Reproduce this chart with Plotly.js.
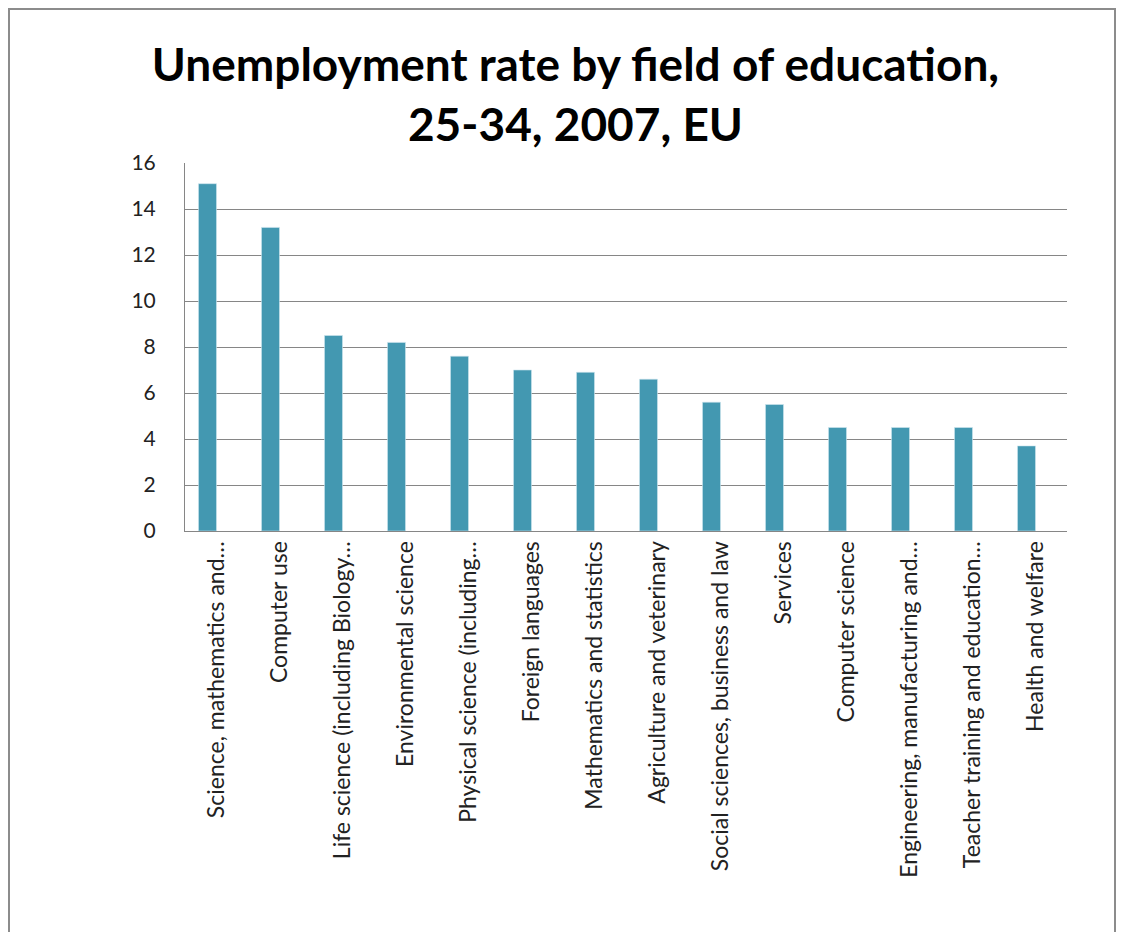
<!DOCTYPE html>
<html>
<head>
<meta charset="utf-8">
<script src="https://cdn.plot.ly/plotly-3.0.1.min.js"></script>
<style>
  html, body { margin: 0; padding: 0; background: #fff; overflow: hidden; }
  #frame { position: absolute; left: 8px; top: 8px; width: 1108px; height: 940px; border: 2px solid #8c8c8c; box-sizing: border-box; }
  #chart { position: absolute; left: 0; top: 0; width: 1124px; height: 932px; }
</style>
</head>
<body>
<div id="chart"></div>
<div id="frame"></div>
<script>
const categories = [
  "Science, mathematics and…",
  "Computer use",
  "Life science (including Biology…",
  "Environmental science",
  "Physical science (including…",
  "Foreign languages",
  "Mathematics and statistics",
  "Agriculture and veterinary",
  "Social sciences, business and law",
  "Services",
  "Computer science",
  "Engineering, manufacturing and…",
  "Teacher training and education…",
  "Health and welfare"
];
const rates = [15.1, 13.2, 8.5, 8.2, 7.6, 7.0, 6.9, 6.6, 5.6, 5.5, 4.5, 4.5, 4.5, 3.7];
const yTicks = [0, 2, 4, 6, 8, 10, 12, 14, 16];

const trace = {
  type: 'bar',
  x: categories,
  y: rates,
  width: 0.286,
  offset: -0.286,
  marker: { color: '#4398B1', line: { color: '#cfe6ee', width: 0.6 } },
  hoverinfo: 'x+y'
};

const layout = {
  width: 1124,
  height: 932,
  paper_bgcolor: '#ffffff',
  plot_bgcolor: '#ffffff',
  margin: { l: 185, r: 57, t: 163, b: 401, pad: 0 },
  title: {
    text: 'Unemployment rate by field of education,<br>25-34, 2007, EU',
    font: { family: 'Lato, "Open Sans", sans-serif', size: 46, color: '#000000', weight: 'bold' },
    x: 0.512, xanchor: 'center',
    y: 0.913, yanchor: 'middle'
  },
  showlegend: false,
  bargap: 0,
  xaxis: {
    type: 'category',
    tickangle: -90,
    showgrid: false,
    showline: true,
    linecolor: '#868686',
    linewidth: 1,
    ticks: '',
    ticklen: 0,
    tickfont: { family: 'Lato, "Open Sans", sans-serif', size: 23, color: '#222222' },
    automargin: false
  },
  yaxis: {
    range: [0, 16],
    tickvals: yTicks,
    ticktext: yTicks.map(String),
    showgrid: true,
    gridcolor: '#868686',
    gridwidth: 1,
    showline: true,
    linecolor: '#868686',
    linewidth: 1,
    ticks: '',
    zeroline: false,
    ticklabelstandoff: 24,
    tickfont: { family: 'Lato, "Open Sans", sans-serif', size: 21, color: '#222222' },
    automargin: false
  }
};

Plotly.newPlot('chart', [trace], layout, { displayModeBar: false, staticPlot: true });
</script>
</body>
</html>
